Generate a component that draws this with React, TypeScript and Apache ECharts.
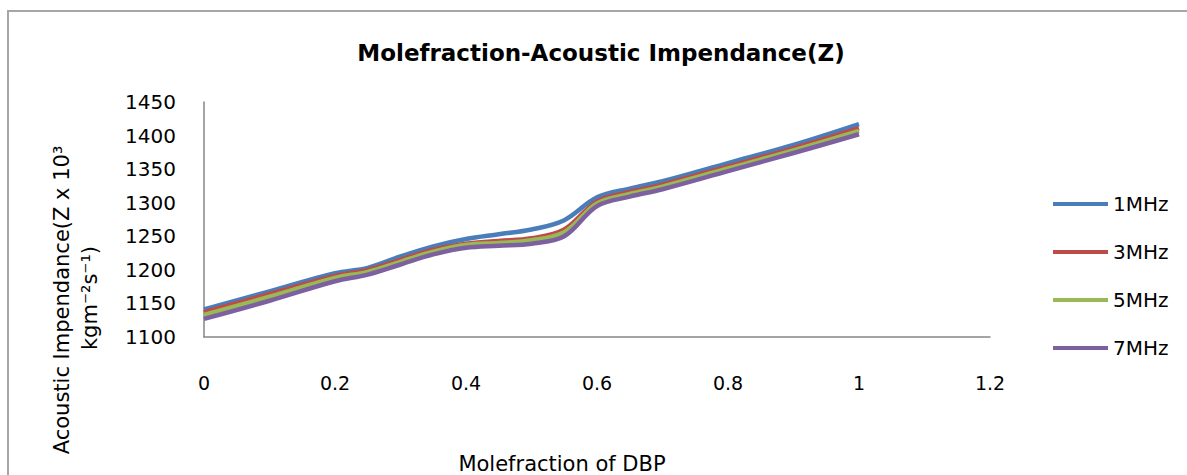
import React, { useEffect, useRef } from "react";
import * as echarts from "echarts";

const xValues = [0, 0.1, 0.2, 0.25, 0.3, 0.35, 0.4, 0.45, 0.5, 0.55, 0.6, 0.65, 0.7, 0.8, 0.9, 1.0];
const seriesNames = ["1MHz", "3MHz", "5MHz", "7MHz"];
const mhz1 = [1141, 1168, 1195, 1203, 1220, 1235, 1246, 1253, 1260, 1274, 1308, 1321, 1332, 1359, 1386, 1417];
const mhz3 = [1137, 1164, 1191, 1200, 1215, 1230, 1239, 1243, 1247, 1260, 1302, 1316, 1327, 1354, 1381, 1411];
const mhz5 = [1133, 1160, 1188, 1197, 1212, 1227, 1237, 1240, 1244, 1256, 1299, 1313, 1324, 1351, 1378, 1407];
const mhz7 = [1127, 1154, 1183, 1193, 1208, 1223, 1233, 1236, 1239, 1250, 1295, 1309, 1320, 1347, 1374, 1402];
const colors = ["#4A7EBB", "#BE4B48", "#98B954", "#7D60A0"];

const titleText = "Molefraction-Acoustic Impendance(Z)";
const xTitle = "Molefraction of DBP";
const yTitleLine1 = "Acoustic Impendance(Z x 10³";
const yTitleLine2 = "kgm⁻²s⁻¹)";

const FONT = "'DejaVu Sans', sans-serif";

export default function App() {
  const ref = useRef<HTMLDivElement>(null);
  useEffect(() => {
    if (!ref.current) return;
    const chart = echarts.init(ref.current, null, { renderer: "svg" });
    const allSeries = [mhz1, mhz3, mhz5, mhz7];
    chart.setOption({
      animation: false,
      backgroundColor: "#ffffff",
      textStyle: { fontFamily: FONT },
      grid: { left: 204, right: 197, top: 102, bottom: 138, containLabel: false },
      xAxis: {
        type: "value",
        min: 0,
        max: 1.2,
        interval: 0.2,
        axisLine: { show: true, lineStyle: { color: "#868686", width: 1.5 } },
        axisTick: { show: false },
        splitLine: { show: false },
        axisLabel: { color: "#000", fontSize: 19, fontFamily: FONT, margin: 36 },
      },
      yAxis: {
        type: "value",
        min: 1100,
        max: 1450,
        interval: 50,
        axisLine: { show: true, lineStyle: { color: "#868686", width: 1.5 } },
        axisTick: { show: false },
        splitLine: { show: false },
        axisLabel: {
          color: "#000",
          fontSize: 20,
          fontFamily: FONT,
          margin: 28,
          formatter: (v: number) => String(v),
        },
      },
      legend: {
        orient: "vertical",
        left: 1048,
        top: 189,
        icon: "rect",
        itemWidth: 55,
        itemHeight: 4,
        itemGap: 28,
        data: seriesNames,
        textStyle: { color: "#000", fontSize: 20, fontFamily: FONT, lineHeight: 20 },
      },
      series: seriesNames.map((name, i) => ({
        name,
        type: "line",
        smooth: 0.35,
        symbol: "none",
        color: colors[i],
        lineStyle: { width: 4.5, color: colors[i] },
        data: xValues.map((x, j) => [x, allSeries[i][j]]),
      })),
      graphic: [
        { type: "line", shape: { x1: 7, y1: 11, x2: 1187, y2: 11 }, style: { stroke: "#A6A6A6", lineWidth: 2 } },
        { type: "line", shape: { x1: 8, y1: 10, x2: 8, y2: 475 }, style: { stroke: "#A6A6A6", lineWidth: 2 } },
        {
          type: "text",
          x: 601,
          y: 53,
          style: { text: titleText, fill: "#000", font: `bold 23px ${FONT}`, align: "center", verticalAlign: "middle" },
        },
        {
          type: "text",
          x: 562,
          y: 464,
          style: { text: xTitle, fill: "#000", font: `21px ${FONT}`, align: "center", verticalAlign: "middle" },
        },
        {
          type: "text",
          x: 62,
          y: 300,
          rotation: Math.PI / 2,
          style: { text: yTitleLine1, fill: "#000", font: `21px ${FONT}`, align: "center", verticalAlign: "middle" },
        },
        {
          type: "text",
          x: 90,
          y: 298,
          rotation: Math.PI / 2,
          style: { text: yTitleLine2, fill: "#000", font: `21px ${FONT}`, align: "center", verticalAlign: "middle" },
        },
      ],
    });
    return () => chart.dispose();
  }, []);
  return (
    <div
      ref={ref}
      style={{ position: "fixed", left: 0, top: 0, width: 1187, height: 475, background: "#fff" }}
    />
  );
}
